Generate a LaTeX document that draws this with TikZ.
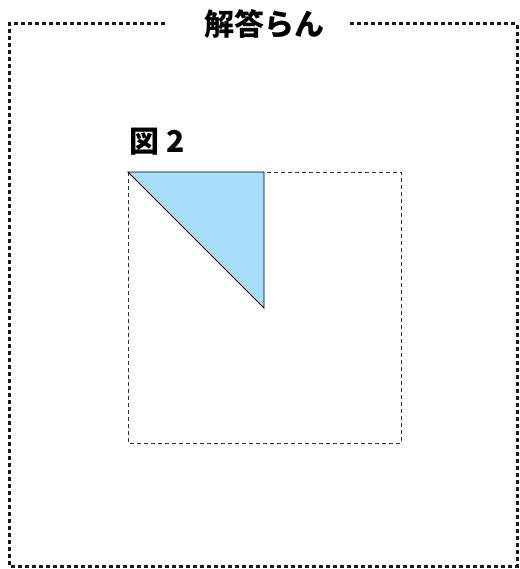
\documentclass[tikz,border=0pt]{standalone}
\usepackage{fontspec}
\newfontfamily\cjk{Noto Sans CJK JP}
\definecolor{triblue}{HTML}{A8DEF9}
\tikzset{
  frameline/.style={line width=3pt, dash pattern=on 4pt off 3pt, black!90},
  gridline/.style={line width=0.8pt, dash pattern=on 4pt off 3pt, black!80},
  piece/.style={draw=black, line width=0.9pt, fill=triblue, line join=miter}
}
\begin{document}
\begin{tikzpicture}[x=1pt,y=-1pt]
\useasboundingbox (0,0) rectangle (519,569);
% outer frame, open at the title
\node (title) [inner sep=0pt] at (264,24) {\cjk\bfseries\fontsize{30pt}{30pt}\selectfont 解答らん};
\coordinate (gapl) at (167,24);
\coordinate (gapr) at (350,24);
\draw [frameline] (gapr) -- (517,24) -- (517,566) -- (9,566) -- (9,24) -- (gapl);
% figure 2
\node (figlabel) [anchor=base west, inner sep=0pt] at (129,153) {\cjk\bfseries\fontsize{30pt}{30pt}\selectfont 図 2};
\coordinate (tl) at (128,172);
\coordinate (br) at (401,443);
\coordinate (mt) at (264,172);
\coordinate (mc) at (264,308);
\draw [gridline] (tl) rectangle (br);
\draw [piece] (tl) -- (mt) -- (mc) -- cycle;
\end{tikzpicture}
\end{document}
